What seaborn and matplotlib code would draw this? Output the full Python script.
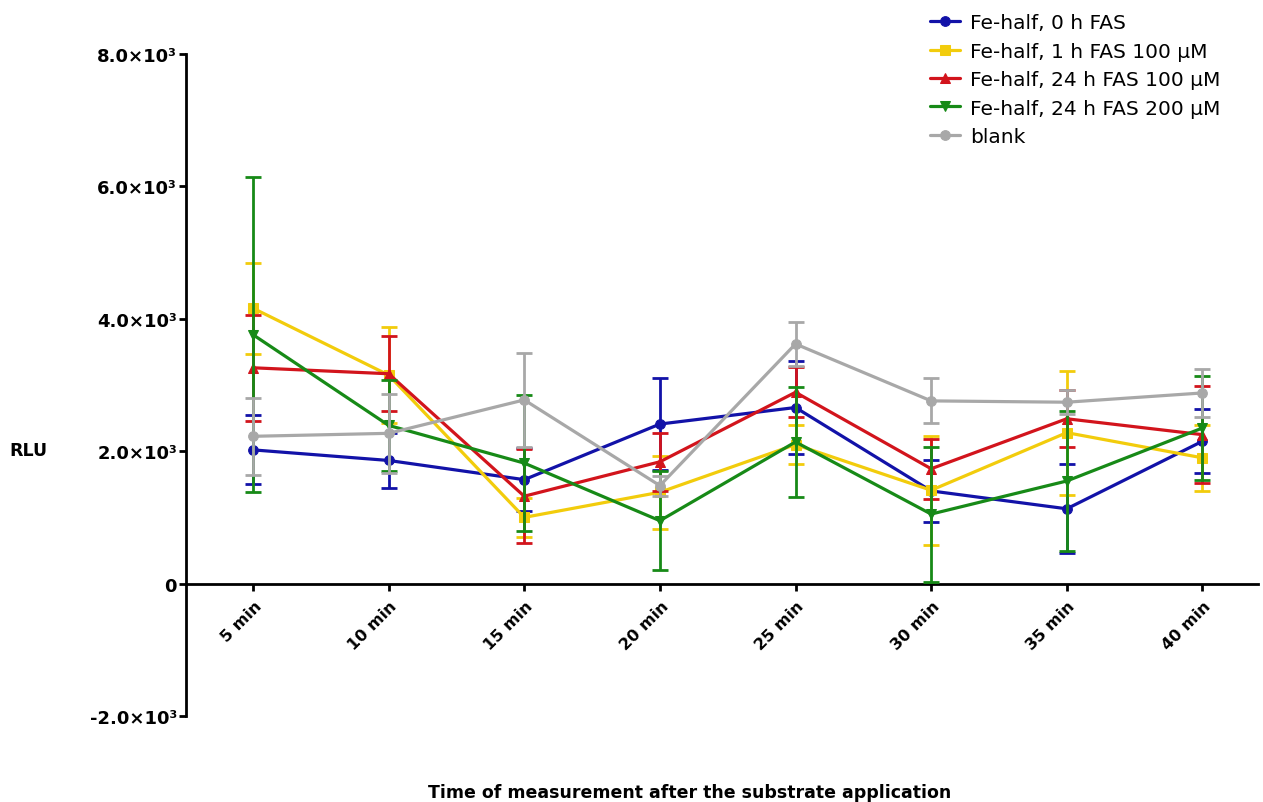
import numpy as np
import pandas as pd
import matplotlib
matplotlib.use("Agg")
import matplotlib.pyplot as plt
import matplotlib.transforms as mtransforms
import seaborn as sns

# Measurement times (x categories)
times = ["5 min", "10 min", "15 min", "20 min", "25 min", "30 min", "35 min", "40 min"]

# Series names
series_names = [
    "Fe-half, 0 h FAS",
    "Fe-half, 1 h FAS 100 µM",
    "Fe-half, 24 h FAS 100 µM",
    "Fe-half, 24 h FAS 200 µM",
    "blank",
]

# Mean RLU per time point
fe0_mean = [2020, 1860, 1570, 2410, 2660, 1400, 1130, 2150]
fe1_100_mean = [4160, 3150, 1000, 1380, 2100, 1410, 2280, 1900]
fe24_100_mean = [3260, 3170, 1320, 1840, 2890, 1735, 2490, 2250]
fe24_200_mean = [3760, 2390, 1820, 950, 2140, 1050, 1550, 2350]
blank_mean = [2225, 2270, 2775, 1480, 3620, 2760, 2740, 2880]

# Error (SD) per time point
fe0_err = [520, 420, 480, 700, 695, 470, 670, 480]
fe1_100_err = [690, 730, 300, 550, 300, 820, 935, 500]
fe24_100_err = [800, 570, 710, 440, 380, 450, 430, 730]
fe24_200_err = [2380, 690, 1030, 750, 830, 1020, 1050, 780]
blank_err = [578, 600, 715, 150, 330, 340, 180, 360]

means = [fe0_mean, fe1_100_mean, fe24_100_mean, fe24_200_mean, blank_mean]
errors = [fe0_err, fe1_100_err, fe24_100_err, fe24_200_err, blank_err]
colors = ["#1212A8", "#F2CC0C", "#D2141C", "#178A17", "#A8A8A8"]
markers = ["o", "s", "^", "v", "o"]

sns.set_style("ticks")
plt.rcParams["font.family"] = ["DejaVu Sans"]
plt.rcParams["text.color"] = "black"
plt.rcParams["xtick.color"] = "black"
plt.rcParams["ytick.color"] = "black"

fig = plt.figure(figsize=(12.63, 8.03), dpi=100)
ax = fig.add_axes([186 / 1263, 86 / 803, (1258 - 186) / 1263, (717 - 55) / 803])

xpos = np.arange(len(times))
for i, (name, m, e, c, mk) in enumerate(zip(series_names, means, errors, colors, markers)):
    df = pd.DataFrame({"time": times, "RLU": m})
    sns.lineplot(data=df, x="time", y="RLU", sort=False, color=c, marker=mk,
                 markersize=7, markeredgecolor=c, linewidth=2.3, label=name,
                 ax=ax, zorder=3 + i)
    ax.errorbar(xpos, m, yerr=e, fmt="none", ecolor=c, elinewidth=2.0,
                capsize=5.5, capthick=2.0, zorder=3 + i)

ax.set_xlim(-0.494, 7.41)
ax.set_ylim(-2000, 8000)
ax.set_xlabel("")
ax.set_ylabel("")
ax.grid(False)

# Axis styling first: changing tick params rebuilds the tick labels
for s in ["top", "right"]:
    ax.spines[s].set_visible(False)
ax.spines["bottom"].set_position(("data", 0))
for s in ["left", "bottom"]:
    ax.spines[s].set_linewidth(2.0)
    ax.spines[s].set_color("black")
ax.tick_params(axis="both", length=5, width=2.0, color="black", labelcolor="black")
ax.tick_params(axis="y", pad=1.5)
ax.tick_params(axis="x", pad=5)


def fmt(v):
    if v == 0:
        return "0"
    return f"{v / 1000:.1f}×10³"


yticks = [-2000, 0, 2000, 4000, 6000, 8000]
ax.set_yticks(yticks)
ax.set_yticklabels([fmt(v) for v in yticks], fontweight="bold", fontsize=13)
ax.set_xticks(xpos)
ax.set_xticklabels(times, rotation=45, ha="right", rotation_mode="anchor",
                   va="center", fontweight="bold", fontsize=11.5)
offset = mtransforms.ScaledTranslation(6 / 100, -6 / 100, fig.dpi_scale_trans)
for lbl in ax.get_xticklabels():
    lbl.set_transform(lbl.get_transform() + offset)

fig.text(28 / 1263, 1 - 451 / 803, "RLU", ha="center", va="center",
         fontweight="bold", fontsize=12.5)
fig.text(690 / 1263, 1 - 793 / 803,
         "Time of measurement after the substrate application",
         ha="center", va="center", fontweight="bold", fontsize=12.5)

handles, labels = ax.get_legend_handles_labels()
ax.legend(handles, labels, loc="upper left", bbox_to_anchor=(912 / 1263, 1 + 4 / 803),
          bbox_transform=fig.transFigure, frameon=False, fontsize=14.5,
          handlelength=1.5, handletextpad=0.5, labelspacing=0.47)

fig.savefig("out.png", dpi=100, facecolor="white")
